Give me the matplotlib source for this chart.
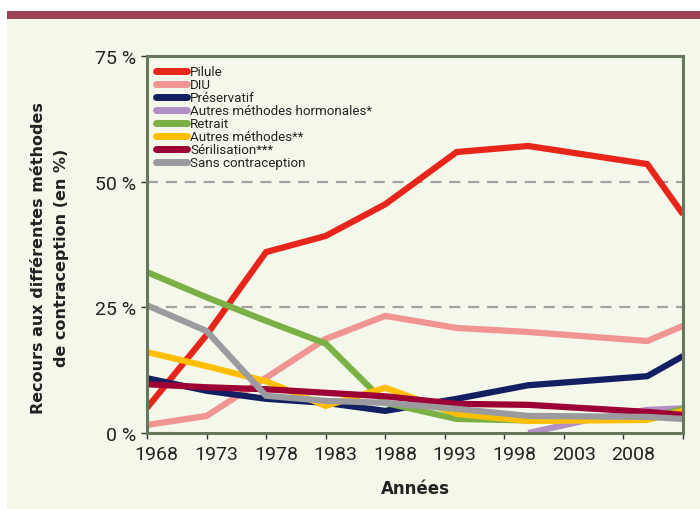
import matplotlib
matplotlib.use("Agg")
import matplotlib.pyplot as plt
from matplotlib.patches import Rectangle
from matplotlib.transforms import ScaledTranslation

NARROW = ["Roboto", "DejaVu Sans"]
plt.rcParams["font.family"] = NARROW

# données (en %)
years = [1968, 1973, 1978, 1983, 1988, 1994, 2000, 2010, 2013]
pilule = [5.0, 19.5, 36.0, 39.2, 45.5, 55.9, 57.1, 53.5, 43.5]
diu = [1.6, 3.4, 11.0, 18.7, 23.3, 20.9, 20.1, 18.3, 21.3]
preservatif = [10.9, 8.4, 6.8, 6.0, 4.4, 6.8, 9.5, 11.3, 15.3]
retrait = [32.0, 27.0, 22.3, 17.8, 6.0, 2.8, 2.5, 2.8, 4.8]
autres_methodes = [16.1, 13.3, 10.3, 5.4, 9.0, 3.8, 2.4, 2.6, 4.4]
sterilisation = [9.7, 9.1, 8.7, 8.0, 7.3, 5.8, 5.6, 4.2, 3.6]
sans_contraception = [25.4, 20.3, 7.4, 6.4, 6.0, 4.8, 3.4, 3.2, 2.8]

hormonales_years = [2000, 2005, 2010, 2013]
hormonales = [0.0, 2.6, 4.6, 4.9]

year_ticks = [1968, 1973, 1978, 1983, 1988, 1993, 1998, 2003, 2008, 2013]
year_labels = ["1968", "1973", "1978", "1983", "1988", "1993", "1998", "2003", "2008", ""]
pct_ticks = [0, 25, 50, 75]
pct_labels = ["0 %", "25 %", "50 %", "75 %"]

series = [
    ("Pilule", years, pilule, "#E8251A"),
    ("DIU", years, diu, "#F09494"),
    ("Préservatif", years, preservatif, "#141F62"),
    ("Autres méthodes hormonales*", hormonales_years, hormonales, "#B290C4"),
    ("Retrait", years, retrait, "#7AB044"),
    ("Autres méthodes**", years, autres_methodes, "#FFBF00"),
    ("Sérilisation***", years, sterilisation, "#9C0035"),
    ("Sans contraception", years, sans_contraception, "#9B9B9F"),
]

BG = "#F4F8EA"
FRAME = "#66785A"

fig = plt.figure(figsize=(7, 5.1), dpi=100, facecolor="white")
fig.patches.append(Rectangle((7 / 700, 0), 1, 490 / 510, transform=fig.transFigure,
                             facecolor=BG, edgecolor="none", zorder=-2))
fig.patches.append(Rectangle((7 / 700, 490 / 510), 1, 8 / 510, transform=fig.transFigure,
                             facecolor="#9C4452", edgecolor="none", zorder=-1))

ax = fig.add_axes([147 / 700, 1 - 434 / 510, 536 / 700, 377 / 510])
ax.set_facecolor(BG)

for label, xs, ys, color in series:
    ax.plot(xs, ys, color=color, linewidth=4.5, label=label,
            solid_capstyle="butt", solid_joinstyle="miter")

for y in [25, 50]:
    ax.axhline(y, color="#A3A3A3", linewidth=1.6, dashes=(5, 3.5), zorder=0.5)

ax.set_xlim(1968, 2013)
ax.set_ylim(0, 75)

for side in ["left", "right", "top", "bottom"]:
    ax.spines[side].set_color(FRAME)
    ax.spines[side].set_linewidth(2.2)

ax.set_xticks(year_ticks)
ax.set_xticklabels(year_labels, fontsize=14)
ax.set_yticks(pct_ticks)
ax.set_yticklabels(pct_labels, fontsize=14)
ax.tick_params(axis="both", direction="out", length=4, width=1, color="#333333",
               labelcolor="#222222", pad=4)
ax.tick_params(axis="x", pad=5)

shift = ScaledTranslation(7 / 72, 0, fig.dpi_scale_trans)
for lab in ax.get_xticklabels():
    lab.set_transform(lab.get_transform() + shift)

ax.set_xlabel("Années", fontsize=12, fontweight="bold", family="DejaVu Sans",
              color="#222222", labelpad=11)
fig.text(50 / 700, 1 - 258 / 510,
         "Recours aux différentes méthodes\nde contraception (en %)",
         rotation=90, ha="center", va="center", multialignment="center",
         fontsize=11.5, fontweight="bold", family="DejaVu Sans",
         color="#222222", linespacing=1.6)

leg = ax.legend(loc="upper left", bbox_to_anchor=(0.0, 1.0), frameon=False,
                fontsize=9.6, handlelength=2.3, handletextpad=0.25,
                labelspacing=0.0, borderaxespad=0.3)
for line in leg.get_lines():
    line.set_linewidth(5)
    line.set_solid_capstyle("round")
for txt in leg.get_texts():
    txt.set_color("#222222")

fig.savefig("out.png", dpi=100, facecolor=fig.get_facecolor())
